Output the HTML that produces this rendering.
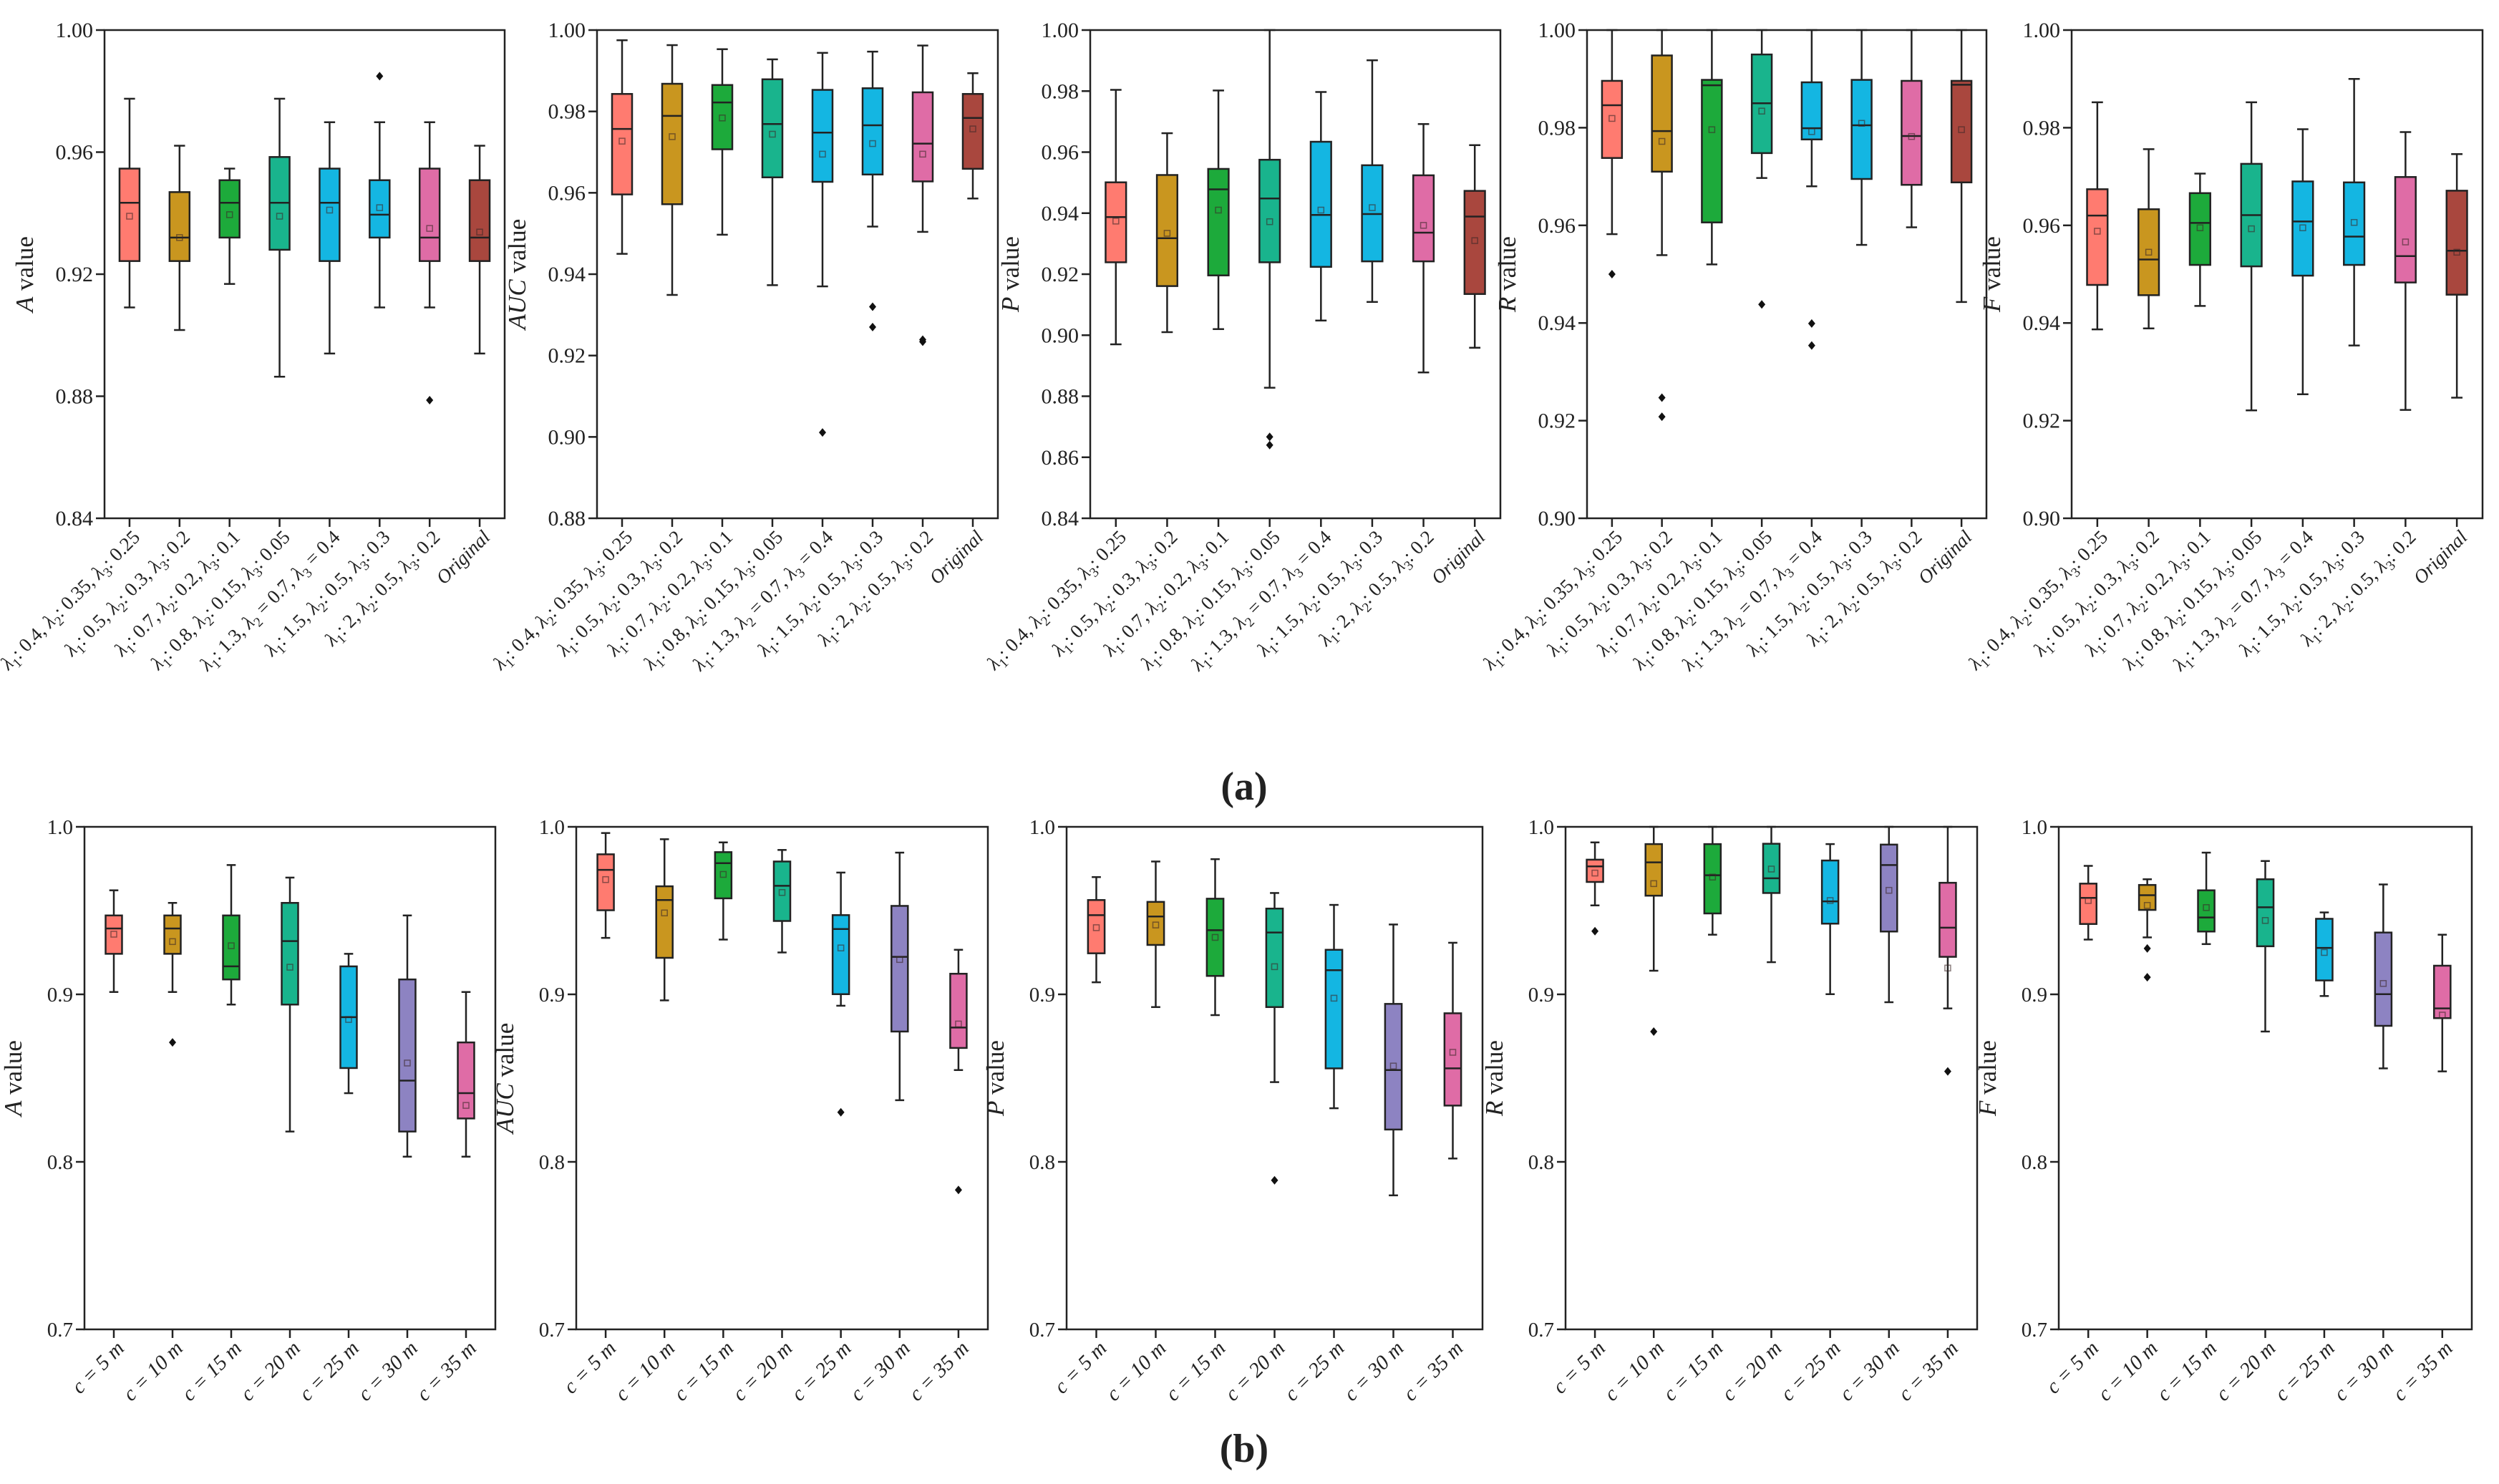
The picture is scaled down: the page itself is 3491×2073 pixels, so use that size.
<!DOCTYPE html>
<html><head><meta charset="utf-8"><style>
html,body{margin:0;padding:0;background:#fff}
svg{display:block}
text{font-family:"Liberation Serif",serif;fill:#222}
</style></head><body>
<svg id="fig" xmlns="http://www.w3.org/2000/svg" width="3491" height="2073" viewBox="0 0 3491 2073">
<rect width="3491" height="2073" fill="#fff"/>
<text x="1738" y="1117" font-size="56" font-weight="bold" text-anchor="middle">(a)</text>
<text x="1738" y="2042" font-size="56" font-weight="bold" text-anchor="middle">(b)</text>
</svg>
<script>
// ---------- categories ----------
const lambdaCategories = ["λ1:0.4,λ2:0.35,λ3:0.25","λ1:0.5,λ2:0.3,λ3:0.2","λ1:0.7,λ2:0.2,λ3:0.1","λ1:0.8,λ2:0.15,λ3:0.05","λ1:1.3,λ2 = 0.7,λ3 = 0.4","λ1:1.5,λ2:0.5,λ3:0.3","λ1:2,λ2:0.5,λ3:0.2","Original"];
const distCategories = ["c = 5 m","c = 10 m","c = 15 m","c = 20 m","c = 25 m","c = 30 m","c = 35 m"];

// ---------- tick labels ----------
const ticksA_A = ["0.84","0.88","0.92","0.96","1.00"];
const ticksA_AUC = ["0.88","0.90","0.92","0.94","0.96","0.98","1.00"];
const ticksA_P = ["0.84","0.86","0.88","0.90","0.92","0.94","0.96","0.98","1.00"];
const ticksA_R = ["0.90","0.92","0.94","0.96","0.98","1.00"];
const ticksA_F = ["0.90","0.92","0.94","0.96","0.98","1.00"];
const ticksB = ["0.7","0.8","0.9","1.0"];

// ---------- panel (a) A ----------
const aA_high = [0.9775,0.9621,0.9546,0.9775,0.9698,0.9698,0.9698,0.9621];
const aA_q3   = [0.9546,0.9469,0.9508,0.9584,0.9546,0.9508,0.9546,0.9508];
const aA_med  = [0.9434,0.932,0.9434,0.9434,0.9434,0.9395,0.932,0.932];
const aA_q1   = [0.9243,0.9243,0.932,0.928,0.9243,0.932,0.9243,0.9243];
const aA_low  = [0.9091,0.9017,0.9168,0.8864,0.894,0.9091,0.9091,0.894];
const aA_mean = [0.939,0.932,0.9395,0.939,0.941,0.9418,0.935,0.9338];
const aA_out  = [[],[],[],[],[],[0.9849],[0.8787],[]];
// ---------- panel (a) AUC ----------
const aAUC_high = [0.9975,0.9963,0.9953,0.9928,0.9944,0.9947,0.9962,0.9894];
const aAUC_q3   = [0.9843,0.9868,0.9865,0.9879,0.9853,0.9857,0.9847,0.9843];
const aAUC_med  = [0.9757,0.9789,0.9822,0.9769,0.9748,0.9766,0.9721,0.9784];
const aAUC_q1   = [0.9596,0.9572,0.9707,0.9638,0.9627,0.9645,0.9628,0.9659];
const aAUC_low  = [0.945,0.9349,0.9497,0.9373,0.937,0.9517,0.9504,0.9586];
const aAUC_mean = [0.9727,0.9738,0.9784,0.9744,0.9695,0.9721,0.9695,0.9757];
const aAUC_out  = [[],[],[],[],[0.9011],[0.932,0.927],[0.9239,0.9234],[]];
// ---------- panel (a) P ----------
const aP_high = [0.9804,0.9662,0.9802,1.0,0.9797,0.9901,0.9692,0.9623];
const aP_q3   = [0.9501,0.9525,0.9545,0.9575,0.9634,0.9557,0.9524,0.9473];
const aP_med  = [0.9387,0.9318,0.9478,0.9448,0.9394,0.9397,0.9336,0.9389];
const aP_q1   = [0.9239,0.9161,0.9196,0.9239,0.9224,0.9242,0.9242,0.9135];
const aP_low  = [0.897,0.901,0.902,0.8828,0.9048,0.9109,0.8878,0.8959];
const aP_mean = [0.9374,0.9334,0.941,0.9372,0.941,0.9418,0.936,0.931];
const aP_out  = [[],[],[],[0.8667,0.864],[],[],[],[]];
// ---------- panel (a) R ----------
const aR_high = [1.0,1.0,1.0,1.0,1.0,1.0,1.0,1.0];
const aR_q3   = [0.9896,0.9948,0.9898,0.995,0.9893,0.9898,0.9896,0.9896];
const aR_med  = [0.9846,0.9793,0.9887,0.985,0.9799,0.9805,0.9783,0.9888];
const aR_q1   = [0.9738,0.971,0.9606,0.9748,0.9776,0.9695,0.9683,0.9688];
const aR_low  = [0.9582,0.9539,0.952,0.9697,0.968,0.956,0.9596,0.9443];
const aR_mean = [0.9819,0.9772,0.9796,0.9834,0.9792,0.9809,0.9782,0.9796];
const aR_out  = [[0.95],[0.9247,0.9208],[],[0.9438],[0.9399,0.9354],[],[],[]];
// ---------- panel (a) F ----------
const aF_high = [0.9852,0.9756,0.9706,0.9852,0.9797,0.99,0.9791,0.9746];
const aF_q3   = [0.9674,0.9633,0.9666,0.9726,0.969,0.9688,0.9699,0.9671];
const aF_med  = [0.962,0.953,0.9605,0.9621,0.9608,0.9577,0.9537,0.9548];
const aF_q1   = [0.9478,0.9457,0.9519,0.9516,0.9497,0.9519,0.9483,0.9458];
const aF_low  = [0.9387,0.9389,0.9435,0.9221,0.9254,0.9354,0.9222,0.9247];
const aF_mean = [0.9588,0.9545,0.9595,0.9593,0.9595,0.9606,0.9566,0.9545];
const aF_out  = [[],[],[],[],[],[],[],[]];

// ---------- panel (b) A ----------
const bA_high = [0.9621,0.9546,0.9772,0.9697,0.9242,0.9471,0.9014];
const bA_q3   = [0.9471,0.9471,0.9471,0.9546,0.9167,0.9089,0.8713];
const bA_med  = [0.9393,0.9393,0.9167,0.9318,0.8864,0.8485,0.841];
const bA_q1   = [0.9242,0.9242,0.9089,0.8939,0.856,0.8181,0.8259];
const bA_low  = [0.9014,0.9014,0.8939,0.8181,0.841,0.8031,0.8031];
const bA_mean = [0.9359,0.9315,0.929,0.9162,0.885,0.859,0.8337];
const bA_out  = [[],[0.8713],[],[],[],[],[]];
// ---------- panel (b) AUC ----------
const bAUC_high = [0.9963,0.9926,0.9907,0.9862,0.9727,0.9846,0.9266];
const bAUC_q3   = [0.9836,0.9645,0.9849,0.9793,0.9473,0.9528,0.9123];
const bAUC_med  = [0.9743,0.9563,0.9783,0.9648,0.939,0.9224,0.8802];
const bAUC_q1   = [0.9502,0.9218,0.9573,0.9438,0.9001,0.8778,0.868];
const bAUC_low  = [0.9337,0.8964,0.9327,0.925,0.8932,0.8368,0.8548];
const bAUC_mean = [0.9685,0.9486,0.9716,0.9608,0.9277,0.9208,0.8823];
const bAUC_out  = [[],[],[],[],[0.8296],[],[0.7832]];
// ---------- panel (b) P ----------
const bP_high = [0.97,0.9793,0.9807,0.9605,0.9534,0.9417,0.9308];
const bP_q3   = [0.9563,0.9552,0.9571,0.9512,0.9266,0.8943,0.8887];
const bP_med  = [0.9473,0.9465,0.9383,0.9369,0.9144,0.8548,0.8558];
const bP_q1   = [0.9245,0.9295,0.911,0.8924,0.8558,0.8193,0.8336];
const bP_low  = [0.9072,0.8924,0.8876,0.8476,0.832,0.78,0.802];
const bP_mean = [0.9398,0.9414,0.934,0.9165,0.8977,0.8572,0.8654];
const bP_out  = [[],[],[],[0.789],[],[],[]];
// ---------- panel (b) R ----------
const bR_high = [0.9907,1.0,1.0,1.0,0.9897,1.0,1.0];
const bR_q3   = [0.9804,0.9897,0.9897,0.9899,0.9799,0.9894,0.9666];
const bR_med  = [0.9764,0.9788,0.9711,0.9693,0.9555,0.9772,0.9398];
const bR_q1   = [0.9671,0.9589,0.9483,0.9605,0.9422,0.9375,0.9224];
const bR_low  = [0.9531,0.9141,0.9356,0.9192,0.9001,0.8953,0.8916];
const bR_mean = [0.9724,0.9661,0.97,0.9748,0.956,0.9621,0.9157];
const bR_out  = [[0.9377],[0.8778],[],[],[],[],[0.854]];
// ---------- panel (b) F ----------
const bF_high = [0.9767,0.9687,0.9846,0.9796,0.9489,0.9656,0.9356];
const bF_q3   = [0.9661,0.9653,0.9621,0.9687,0.9451,0.9369,0.9171];
const bF_med  = [0.9576,0.9592,0.9459,0.952,0.9277,0.9001,0.8916];
const bF_q1   = [0.942,0.9504,0.9375,0.9287,0.9083,0.8812,0.8858];
const bF_low  = [0.9327,0.934,0.93,0.8778,0.899,0.8558,0.854];
const bF_mean = [0.956,0.9531,0.9518,0.9441,0.925,0.9065,0.8876];
const bF_out  = [[],[0.9274,0.9102],[],[],[],[],[]];

const colorsA = ["#FF7B70","#C9961F","#1DAA3B","#19B48D","#14B6E2","#14B6E2","#DF6CA6","#A9473E"];
const colorsB = ["#FF7B70","#C9961F","#1DAA3B","#19B48D","#14B6E2","#8D83C2","#DF6CA6"];

const NS = "http://www.w3.org/2000/svg";
const svg = document.getElementById("fig");
function mk(tag, attrs, parent){
  const e = document.createElementNS(NS, tag);
  for (const k in attrs) e.setAttribute(k, attrs[k]);
  (parent||svg).appendChild(e);
  return e;
}

function addLambdaLabel(t, s){
  let i=0;
  while(i<s.length){
    if(s[i]==="λ"){
      const l = mk("tspan",{"font-style":"italic"},t); l.textContent="λ";
      const sub = mk("tspan",{"font-size":"19","dy":"7"},t); sub.textContent=s[i+1];
      i+=2;
      let j=i; while(j<s.length && s[j]!=="λ") j++;
      const rest = mk("tspan",{"dy":"-7"},t);
      rest.textContent=s.slice(i,j).replace(/:/g,": ").replace(/,/g,", ");
      i=j;
    } else {
      let j=i; while(j<s.length && s[j]!=="λ") j++;
      const rest = mk("tspan",{},t); rest.textContent=s.slice(i,j);
      if(s.slice(i,j)==="Original") rest.setAttribute("font-style","italic");
      i=j;
    }
  }
}

function drawChart(c){
  const g = mk("g",{});
  
  
  const yS = v => c.top + (c.max - v)/(c.max - c.min)*(c.bottom - c.top);
  const n = c.cats.length;
  const band = (c.right - c.left)/n;
  const xS = i => c.left + band*(i+0.5);
  const bw = band*c.boxFrac, cw = bw*0.55;
  const fr = mk("rect",{x:c.left,y:c.top,width:c.right-c.left,height:c.bottom-c.top,fill:"none",stroke:"#222","stroke-width":2.5},g);
  
  
  c.ticks.forEach(lbl=>{
    const v = parseFloat(lbl), y = yS(v);
    const tk = mk("line",{x1:c.left-12,x2:c.left,y1:y,y2:y,stroke:"#222","stroke-width":2.5},g);
    
    
    const t = mk("text",{x:c.left-16,y:y+10,"font-size":c.tickFont,"text-anchor":"end"},g);
    
    
    t.textContent = lbl;
  });
  const ty = (c.top+c.bottom)/2, tx = c.left - c.titleOff;
  const tt = mk("text",{x:tx,y:ty,"font-size":35,"text-anchor":"middle",transform:`rotate(-90 ${tx} ${ty})`},g);
  
  
  const it = mk("tspan",{"font-style":"italic"},tt); it.textContent = c.metric;
  const vt = mk("tspan",{},tt); vt.textContent = " value";
  c.cats.forEach((cat,i)=>{
    const x = xS(i);
    const tk = mk("line",{x1:x,x2:x,y1:c.bottom,y2:c.bottom+12,stroke:"#222","stroke-width":2.5},g);
    
    
    const lx = x+16, ly = c.bottom+28;
    const t = mk("text",{x:lx,y:ly,"font-size":c.labFont,"text-anchor":"end",transform:`rotate(-45 ${lx} ${ly})`},g);
    
    
    if(c.lambda) addLambdaLabel(t, cat);
    else { t.setAttribute("font-style","italic"); t.textContent = cat; }

    const col = c.colors[i];
    const bg = mk("g",{},g);
    
    
    const yh=yS(c.high[i]), yl=yS(c.low[i]), y3=yS(c.q3[i]), y1=yS(c.q1[i]), ym=yS(c.med[i]);
    const w1 = mk("line",{x1:x,x2:x,y1:yh,y2:y3,stroke:"#222","stroke-width":2.5},bg);
    
    
    const w2 = mk("line",{x1:x,x2:x,y1:y1,y2:yl,stroke:"#222","stroke-width":2.5},bg);
    
    
    const c1 = mk("line",{x1:x-cw/2,x2:x+cw/2,y1:yh,y2:yh,stroke:"#222","stroke-width":2.5},bg);
    
    
    const c2 = mk("line",{x1:x-cw/2,x2:x+cw/2,y1:yl,y2:yl,stroke:"#222","stroke-width":2.5},bg);
    
    
    const r = mk("rect",{x:x-bw/2,y:y3,width:bw,height:Math.max(1,y1-y3),fill:col,stroke:"#222","stroke-width":2.5},bg);
    
    
    const md = mk("line",{x1:x-bw/2,x2:x+bw/2,y1:ym,y2:ym,stroke:"#222","stroke-width":2.5},bg);
    
    
    const mn = mk("rect",{x:x-4,y:yS(c.mean[i])-4,width:8,height:8,fill:"none",stroke:"rgba(60,40,40,0.6)","stroke-width":1.5},bg);
    
    
    c.out[i].forEach(v=>{
      const oy = yS(v);
      const o = mk("path",{d:`M${x} ${oy-6}L${x+5} ${oy}L${x} ${oy+6}L${x-5} ${oy}Z`,fill:"#111"},bg);
      
      
    });
  });
}

const rowA = {top:42,bottom:724,cats:lambdaCategories,colors:colorsA,boxFrac:0.4,tickFont:30,labFont:27,titleOff:100,lambda:true};
const rowB = {top:1155,bottom:1857,cats:distCategories,colors:colorsB,boxFrac:0.28,tickFont:29,labFont:29,titleOff:88,lambda:false,min:0.7,max:1.0,ticks:ticksB};

drawChart(Object.assign({},rowA,{name:"chart-a-A",metric:"A",left:146,right:705,min:0.84,max:1.0,ticks:ticksA_A,high:aA_high,q3:aA_q3,med:aA_med,q1:aA_q1,low:aA_low,mean:aA_mean,out:aA_out}));
drawChart(Object.assign({},rowA,{name:"chart-a-AUC",metric:"AUC",left:834,right:1394,min:0.88,max:1.0,ticks:ticksA_AUC,high:aAUC_high,q3:aAUC_q3,med:aAUC_med,q1:aAUC_q1,low:aAUC_low,mean:aAUC_mean,out:aAUC_out}));
drawChart(Object.assign({},rowA,{name:"chart-a-P",metric:"P",left:1523,right:2096,min:0.84,max:1.0,ticks:ticksA_P,high:aP_high,q3:aP_q3,med:aP_med,q1:aP_q1,low:aP_low,mean:aP_mean,out:aP_out}));
drawChart(Object.assign({},rowA,{name:"chart-a-R",metric:"R",left:2217,right:2775,min:0.90,max:1.0,ticks:ticksA_R,high:aR_high,q3:aR_q3,med:aR_med,q1:aR_q1,low:aR_low,mean:aR_mean,out:aR_out}));
drawChart(Object.assign({},rowA,{name:"chart-a-F",metric:"F",left:2894,right:3468,min:0.90,max:1.0,ticks:ticksA_F,high:aF_high,q3:aF_q3,med:aF_med,q1:aF_q1,low:aF_low,mean:aF_mean,out:aF_out}));

drawChart(Object.assign({},rowB,{name:"chart-b-A",metric:"A",left:118,right:692,high:bA_high,q3:bA_q3,med:bA_med,q1:bA_q1,low:bA_low,mean:bA_mean,out:bA_out}));
drawChart(Object.assign({},rowB,{name:"chart-b-AUC",metric:"AUC",left:805,right:1380,high:bAUC_high,q3:bAUC_q3,med:bAUC_med,q1:bAUC_q1,low:bAUC_low,mean:bAUC_mean,out:bAUC_out}));
drawChart(Object.assign({},rowB,{name:"chart-b-P",metric:"P",left:1490,right:2071,high:bP_high,q3:bP_q3,med:bP_med,q1:bP_q1,low:bP_low,mean:bP_mean,out:bP_out}));
drawChart(Object.assign({},rowB,{name:"chart-b-R",metric:"R",left:2187,right:2762,high:bR_high,q3:bR_q3,med:bR_med,q1:bR_q1,low:bR_low,mean:bR_mean,out:bR_out}));
drawChart(Object.assign({},rowB,{name:"chart-b-F",metric:"F",left:2876,right:3453,high:bF_high,q3:bF_q3,med:bF_med,q1:bF_q1,low:bF_low,mean:bF_mean,out:bF_out}));
</script>
</body></html>
